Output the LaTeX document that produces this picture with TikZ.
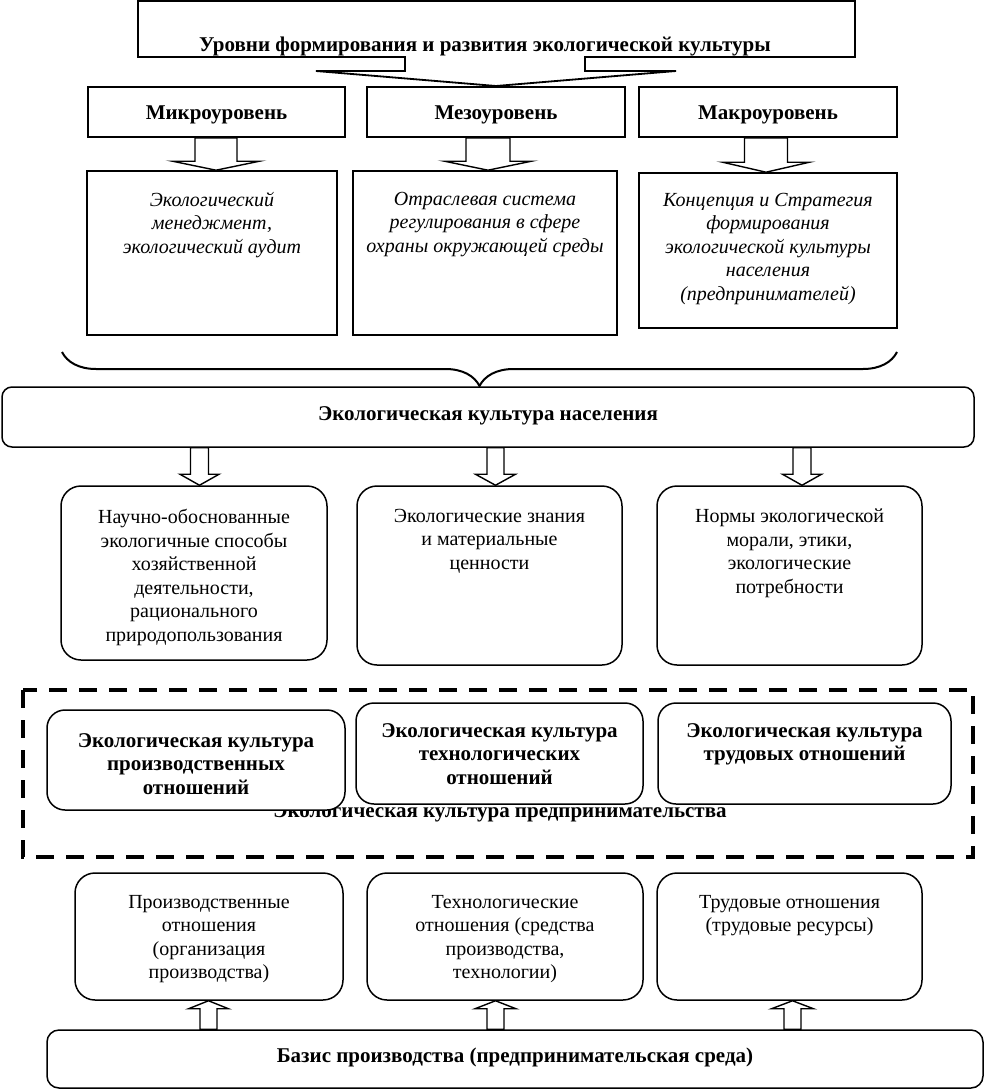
\documentclass[tikz,border=0pt]{standalone}
\usepackage{fontspec}
\setmainfont{Liberation Serif}
\usetikzlibrary{decorations.pathreplacing,calc}
\newcommand\downarr[6]{%
  \draw[harrow] let \p1=(#1.south), \p2=(#2.north) in
    (#3-#4,\y1) -- (#3-#4,\y2+#6) -- (#3-#5,\y2+#6) -- (#3,\y2) -- (#3+#5,\y2+#6) -- (#3+#4,\y2+#6) -- (#3+#4,\y1) -- cycle;}
\newcommand\uparr[6]{%
  \draw[harrow] let \p1=(#1.north), \p2=(#2.south) in
    (#3-#4,\y1) -- (#3-#4,\y2-#6) -- (#3-#5,\y2-#6) -- (#3,\y2) -- (#3+#5,\y2-#6) -- (#3+#4,\y2-#6) -- (#3+#4,\y1) -- cycle;}
\begin{document}
\begin{tikzpicture}[x=1pt,y=-1pt,
  font=\fontsize{20}{23.5}\selectfont,
  sqbox/.style={draw, line width=1.6pt, fill=white, inner sep=0pt},
  rbox/.style={draw, line width=1.5pt, fill=white, rounded corners=20pt, inner sep=0pt},
  txt/.style={align=center, inner sep=0pt, anchor=north},
  bf/.style={font=\fontsize{21}{23.5}\selectfont\bfseries},
  itx/.style={font=\fontsize{20}{23.5}\selectfont\itshape},
  harrow/.style={draw, line width=1.4pt, fill=white, line join=miter},
]
\useasboundingbox (0,0) rectangle (985,1092);

% title callout
\draw[line width=1.8pt, line join=miter, fill=white] (138,1) -- (855,1) -- (855,57) -- (585,57) -- (585,71) -- (676,71) -- (496,86) -- (316,71) -- (405,71) -- (405,57) -- (138,57) -- cycle;
\node[bf, inner sep=0pt] (title) at (485,46) {Уровни формирования и развития экологической культуры};

% levels
\node[sqbox, minimum width=257, minimum height=50] (micro) at (216.5,112) {};
\node[sqbox, minimum width=258, minimum height=50] (meso) at (496,112) {};
\node[sqbox, minimum width=258, minimum height=50] (macro) at (768,112) {};
\node[bf, inner sep=0pt] (tmicro) at (216.5,115) {Микроуровень};
\node[bf, inner sep=0pt] (tmeso) at (496,115) {Мезоуровень};
\node[bf, inner sep=0pt] (tmacro) at (768,115) {Макроуровень};

\node[sqbox, minimum width=250, minimum height=164] (imicro) at (212,253) {};
\node[sqbox, minimum width=264, minimum height=164] (imeso) at (485,253) {};
\node[sqbox, minimum width=258, minimum height=155] (imacro) at (768,250.5) {};
\node[txt, itx] (timicro) at (212,192) {Экологический\\менеджмент,\\экологический аудит};
\node[txt, itx] (timeso) at (485,192) {Отраслевая система\\регулирования в сфере\\охраны окружающей среды};
\node[txt, itx] (timacro) at (768,193) {Концепция и Стратегия\\формирования\\экологической культуры\\населения\\(предпринимателей)};

\downarr{micro}{imicro}{216}{21}{43.5}{9}
\downarr{meso}{imeso}{488}{22}{43.5}{9}
\downarr{macro}{imacro}{766}{21.5}{43.5}{10}

% brace
\draw[line width=2pt, decorate, decoration={brace, amplitude=34pt, mirror}] (62,352) -- (897,352);

% population
\node[rbox, rounded corners=10pt, minimum width=972, minimum height=60] (pop) at (488,417) {};
\node[bf, inner sep=0pt] (tpop) at (488,416) {Экологическая культура населения};

\node[rbox, minimum width=266, minimum height=174] (m1) at (194,573) {};
\node[rbox, minimum width=265, minimum height=179] (m2) at (489.5,575.5) {};
\node[rbox, minimum width=265, minimum height=179] (m3) at (789.5,575.5) {};
\node[txt] (tm1) at (194,509) {Научно-обоснованные\\экологичные способы\\хозяйственной\\деятельности,\\рационального\\природопользования};
\node[txt] (tm2) at (489.5,509) {Экологические знания\\и материальные\\ценности};
\node[txt] (tm3) at (789.5,509) {Нормы экологической\\морали, этики,\\экологические\\потребности};

\downarr{pop}{m1}{199.5}{9}{19.5}{11}
\downarr{pop}{m2}{495.5}{8.5}{20}{11}
\downarr{pop}{m3}{802}{9}{19.5}{11}

% entrepreneurship
\draw[line width=4pt, dash pattern=on 18pt off 12pt] (23,690) rectangle (973,857);
\node[bf, inner sep=0pt] (tent) at (500,813) {Экологическая культура предпринимательства};
\node[rbox, rounded corners=18pt, minimum width=298, minimum height=100] (e1) at (196,760) {};
\node[rbox, rounded corners=18pt, minimum width=287, minimum height=101] (e2) at (499.5,753.5) {};
\node[rbox, rounded corners=18pt, minimum width=293, minimum height=101] (e3) at (804.5,753.5) {};
\node[txt, bf] (te1) at (196,733) {Экологическая культура\\производственных\\отношений};
\node[txt, bf] (te2) at (499.5,723) {Экологическая культура\\технологических\\отношений};
\node[txt, bf] (te3) at (804.5,723) {Экологическая культура\\трудовых отношений};

% bottom
\node[rbox, minimum width=268, minimum height=127] (b1) at (209,936.5) {};
\node[rbox, minimum width=276, minimum height=127] (b2) at (505,936.5) {};
\node[rbox, minimum width=265, minimum height=127] (b3) at (789.5,936.5) {};
\node[txt] (tb1) at (209,895) {Производственные\\отношения\\(организация\\производства)};
\node[txt] (tb2) at (505,895) {Технологические\\отношения (средства\\производства,\\технологии)};
\node[txt] (tb3) at (789.5,895) {Трудовые отношения\\(трудовые ресурсы)};

\node[rbox, rounded corners=12pt, minimum width=936, minimum height=58] (base) at (515,1059) {};
\node[bf, inner sep=0pt] (tbase) at (515,1057) {Базис производства (предпринимательская среда)};

\uparr{base}{b1}{208.5}{8.5}{20}{8}
\uparr{base}{b2}{495.5}{8.5}{20.5}{8}
\uparr{base}{b3}{792.5}{8.5}{21}{8}
\end{tikzpicture}
\end{document}
